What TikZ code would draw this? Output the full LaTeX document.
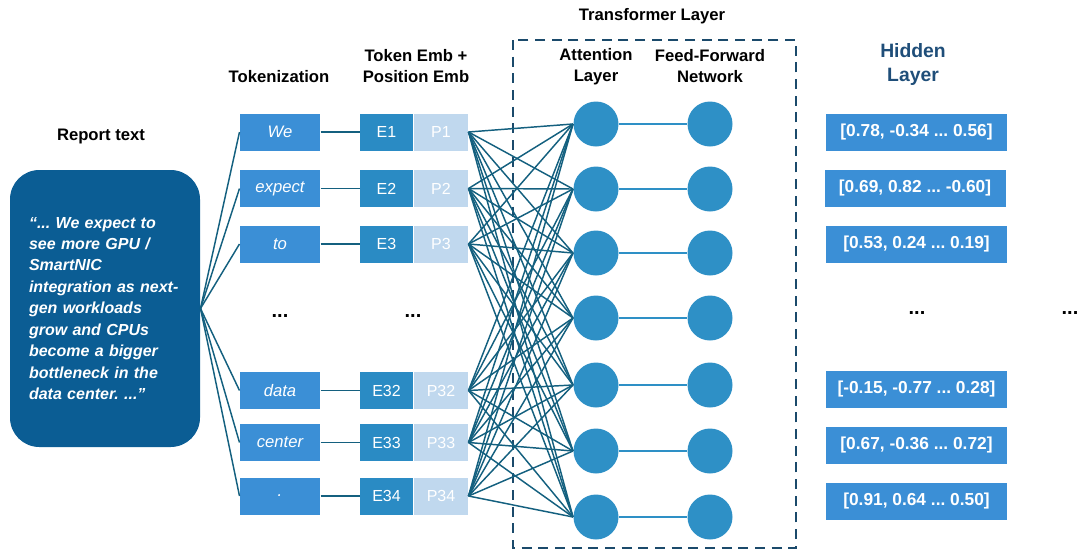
\documentclass[tikz,border=0pt]{standalone}
\usepackage{fontspec}
\setmainfont{Liberation Sans}
\usetikzlibrary{positioning}
\frenchspacing

\definecolor{tokblue}{HTML}{3B8FD6}
\definecolor{embblue}{HTML}{2A8BC4}
\definecolor{posblue}{HTML}{C0D8EE}
\definecolor{nodeblue}{HTML}{2E90C6}
\definecolor{linkteal}{HTML}{14607F}
\definecolor{reportblue}{HTML}{0B5D94}
\definecolor{framenavy}{HTML}{1B4A6B}
\definecolor{hiddennavy}{HTML}{1F4E79}

\tikzset{every picture/.style={line width=0.75pt}}
\tikzset{
  title/.style={font=\fontsize{12.5}{15.75}\selectfont\bfseries, align=center, inner sep=0.75pt},
  reportbox/.style={fill=reportblue, text=white, rounded corners=22pt, minimum width=142.5pt, minimum height=207.75pt, inner sep=0pt, text width=114pt, align=left, font=\fontsize{12}{16.1}\selectfont\bfseries\itshape},
  tokbox/.style={fill=tokblue, text=white, minimum width=60pt, minimum height=27.75pt, inner sep=0pt, font=\fontsize{12.5}{15}\selectfont\itshape},
  embbox/.style={fill=embblue, text=white, minimum width=39.75pt, minimum height=27.75pt, inner sep=0pt, font=\fontsize{12}{14}\selectfont},
  posbox/.style={embbox, fill=posblue, minimum width=40.5pt},
  hidbox/.style={fill=tokblue, text=white, minimum width=135.75pt, minimum height=27.75pt, inner sep=0pt, font=\fontsize{13}{15}\selectfont\bfseries},
  neuron/.style={circle, fill=nodeblue, minimum size=33.75pt, inner sep=0pt},
  link/.style={draw=linkteal, line width=1.1pt},
  fflink/.style={draw=nodeblue, line width=1pt},
  frame/.style={draw=framenavy, line width=1.8pt, dash pattern=on 7.5pt off 5pt},
  dots/.style={font=\fontsize{15}{16}\selectfont\bfseries, inner sep=0.75pt},
}

\begin{document}
\begin{tikzpicture}[x=0.75pt,y=0.75pt,yscale=-1,xscale=1]
\useasboundingbox (0,0) rectangle (1078,550);

% Report text
\node[title] (reporttitle) at (101,136) {Report text};
\node[reportbox] (report) at (105,308.5) {“... We expect to\\ see more GPU /\\ SmartNIC\\ integration as next-\\ gen workloads\\ grow and CPUs\\ become a bigger\\ bottleneck in the\\ data center. ...”};

% Column titles
\node[title] (toktitle) at (279,77) {Tokenization};
\node[title] (embtitle) at (416,66.5) {Token Emb +\\ Position Emb};
\node[title] (trftitle) at (652,16) {Transformer Layer};
\node[title] (atttitle) at (596,66.5) {Attention\\ Layer};
\node[title] (ffntitle) at (710,66.5) {Feed-Forward\\ Network};
\node[title, text=hiddennavy, font=\fontsize{14.5}{18}\selectfont\bfseries] (hidtitle) at (913,64) {Hidden\\ Layer};

% Tokens
\node[tokbox] (tok1) at (280,132) {We};
\node[tokbox] (tok2) at (280,188.5) {expect};
\node[tokbox] (tok3) at (280,244) {to};
\node[tokbox] (tok4) at (280,390.5) {data};
\node[tokbox] (tok5) at (280,442.5) {center};
\node[tokbox] (tok6) at (280,496) {.};

% Token + position embeddings
\node[embbox] (e1) at (386.5,132) {E1};
\node[embbox] (e2) at (386.5,188.5) {E2};
\node[embbox] (e3) at (386.5,244) {E3};
\node[embbox] (e4) at (386.5,390.5) {E32};
\node[embbox] (e5) at (386.5,442.5) {E33};
\node[embbox] (e6) at (386.5,496) {E34};
\node[posbox, right=0pt of e1] (p1) {P1};
\node[posbox, right=0pt of e2] (p2) {P2};
\node[posbox, right=0pt of e3] (p3) {P3};
\node[posbox, right=0pt of e4] (p4) {P32};
\node[posbox, right=0pt of e5] (p5) {P33};
\node[posbox, right=0pt of e6] (p6) {P34};

% Transformer layer
\draw[frame] (513,40) rectangle (796,548);
\foreach \j/\y in {1/124,2/189,3/253,4/318,5/385,6/451,7/517}{
  \node[neuron] (a\j) at (596,\y) {};
  \node[neuron] (f\j) at (710,\y) {};
}

% Hidden layer
\node[hidbox] (h1) at (916.5,132) {[0.78, -0.34 ... 0.56]};
\node[hidbox] (h2) at (915,188.5) {[0.69, 0.82 ... -0.60]};
\node[hidbox] (h3) at (916.5,244) {[0.53, 0.24 ... 0.19]};
\node[hidbox] (h4) at (916.5,389.5) {[-0.15, -0.77 ... 0.28]};
\node[hidbox] (h5) at (916.5,445.5) {[0.67, -0.36 ... 0.72]};
\node[hidbox] (h6) at (916.5,501.5) {[0.91, 0.64 ... 0.50]};

% Ellipses
\node[dots] (tokdots) at (280,316) {...};
\node[dots] (embdots) at (413,316) {...};
\node[dots] (hiddots) at (917,313) {...};
\node[dots] (outdots) at (1070,313) {...};

% Connectors
\foreach \i in {1,...,6}{
  \draw[link] (report.east) -- (tok\i.west);
  \draw[link] (tok\i.east) -- (e\i.west);
  \foreach \j in {1,...,7}
    \draw[link] (p\i.east) -- (a\j.west);
}
\foreach \j in {1,...,7}
  \draw[fflink] (a\j) -- (f\j);

\end{tikzpicture}
\end{document}
